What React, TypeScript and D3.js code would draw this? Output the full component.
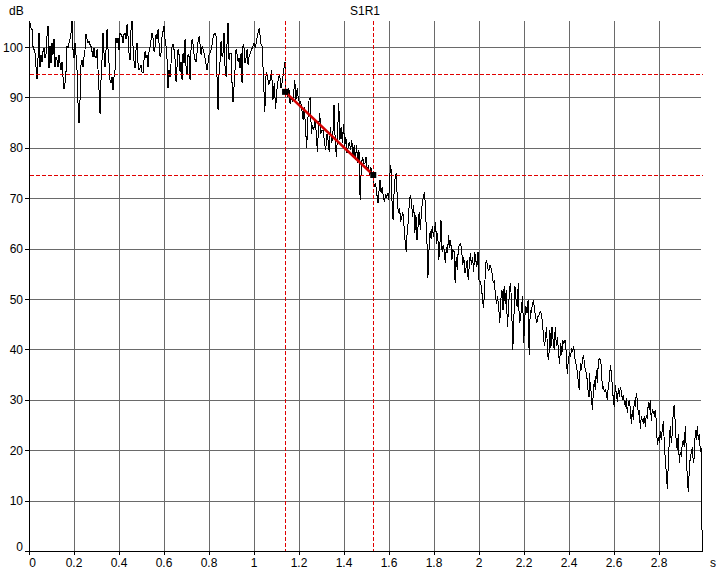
import React from "react";
import * as d3 from "d3";

// ---- data ----
const title = "S1R1";
const yUnit = "dB";
const xUnit = "s";

// Segment A: steady level, 0 .. 0.978 s
const segAStart = 0;
const segAEnd = 0.978;
const segADb: number[] = [
  97.8, 104.8, 103.8, 103.5, 100.1, 99.5, 98.8, 96.1, 93.6, 97.8,
  102.8, 96.1, 98.5, 97.1, 99.1, 99.8, 97.8, 98.5, 102.1, 104.1,
  95.8, 100.1, 96.8, 100.8, 98.5, 101.5, 96.1, 98.1, 97.5, 96.1,
  98.5, 96.8, 95.5, 97.1, 94.1, 91.6, 92.8, 95.1, 100.1, 99.8,
  100.8, 101.5, 102.8, 105.1, 99.5, 97.8, 100.8, 98.5, 95.5, 88.8,
  84.9, 89.5, 96.5, 97.5, 96.1, 98.1, 99.5, 102.5, 101.5, 100.8,
  101.1, 100.5, 100.1, 99.1, 98.1, 99.8, 98.1, 97.8, 99.5, 95.5,
  91.5, 86.8, 93.5, 97.5, 102.8, 98.8, 96.1, 99.5, 103.5, 99.5,
  96.8, 93.5, 92.8, 94.1, 91.5, 94.1, 95.5, 101.8, 100.8, 101.8,
  99.5, 102.8, 102.5, 102.1, 100.8, 102.5, 102.8, 101.5, 104.5, 102.1,
  98.8, 97.5, 103.5, 105.1, 100.1, 97.1, 95.8, 99.5, 100.8, 96.8,
  95.5, 95.8, 96.5, 95.1, 94.8, 97.5, 99.1, 97.8, 98.5, 96.1,
  99.1, 100.1, 101.5, 102.8, 101.8, 99.1, 100.1, 102.5, 101.5, 103.5,
  100.8, 98.1, 98.8, 102.1, 103.1, 104.1, 101.5, 100.1, 97.5, 91.8,
  95.5, 94.1, 96.8, 100.1, 100.5, 99.5, 97.5, 93.1, 96.1, 99.5,
  98.5, 95.1, 97.1, 93.5, 98.8, 96.8, 101.5, 96.1, 94.5, 98.5,
  98.1, 93.5, 99.5, 101.5, 100.5, 98.5, 97.5, 97.1, 98.8, 101.1,
  102.1, 100.5, 98.5, 100.1, 99.5, 98.8, 97.8, 96.5, 95.5, 96.8,
  98.5, 98.8, 99.5, 100.5, 101.8, 102.5, 102.8, 102.1, 93.8, 87.5,
  94.8, 97.1, 101.1, 98.1, 98.8, 102.8, 96.1, 94.1, 100.8, 104.8,
  97.5, 98.8, 98.8, 92.8, 89.1, 92.1, 95.5, 99.5, 98.5, 97.1,
  97.8, 95.8, 98.8, 92.8, 100.5, 99.8, 96.8, 97.8, 99.5, 96.5,
  98.1,
];

// Segment B: onset of decay, 1.0 .. 1.138 s
const segBStart = 1.0;
const segBEnd = 1.138;
const segBDb: number[] = [
  100.8, 99.8, 101.5, 102.8, 103.8, 100.8, 100.1, 94.1, 87.1, 95.1,
  94.1, 92.5, 93.5, 95.5, 89.5, 92.8, 87.8, 91.5, 93.8, 94.5,
  91.8, 93.1, 95.5, 97.1,
];

// Segment B2: evaluation range, 1.139 .. 1.551 s
const segB2Start = 1.139;
const segB2End = 1.551;
const segB2Db: number[] = [
  91.1, 90.8, 90.1, 91.8, 88.8, 90.1, 89.1, 90.8, 93.4, 89.5,
  91.8, 89.8, 88.8, 89.1, 87.5, 85.5, 88.1, 84.2, 79.9, 85.5,
  89.5, 89.8, 82.8, 84.5, 83.5, 85.5, 83.2, 79.2, 84.2, 86.8,
  82.8, 83.5, 83.5, 80.9, 79.5, 82.8, 81.5, 79.2, 84.2, 80.9,
  82.2, 88.5, 81.5, 78.2, 82.8, 88.8, 81.5, 84.2, 80.9, 84.8,
  80.2, 82.2, 78.9, 80.2, 81.2, 79.5, 81.5, 78.2, 80.5, 77.5,
  80.5, 76.9, 79.5, 69.6, 76.5, 78.2, 76.9, 76.9, 78.2, 75.6,
  76.2, 74.6, 76.2, 74.9, 74.2, 72.2, 72.9, 70.9, 69.0,
];

// Segment C: main decay, 1.56 .. 2.489 s
const segCStart = 1.56;
const segCEnd = 2.489;
const segCDb: number[] = [
  73.6, 71.0, 72.3, 70.3, 69.3, 70.6, 70.3, 71.0, 69.6, 74.6,
  76.6, 69.6, 65.7, 71.6, 74.3, 74.9, 69.0, 67.0, 68.0, 65.3,
  66.3, 67.3, 64.7, 61.7, 59.4, 63.4, 65.3, 69.6, 70.6, 69.0,
  66.3, 68.6, 63.0, 66.7, 61.7, 64.4, 67.3, 63.7, 67.0, 69.3,
  70.3, 71.3, 66.3, 62.4, 54.1, 59.7, 63.4, 62.0, 64.4, 62.4,
  63.7, 65.3, 61.0, 63.0, 57.7, 60.7, 65.7, 59.4, 60.7, 59.7,
  57.1, 60.4, 59.1, 62.7, 60.1, 61.7, 57.7, 59.7, 59.4, 53.1,
  58.4, 55.7, 60.4, 60.7, 61.0, 59.7, 56.7, 58.4, 55.1, 56.1,
  57.7, 53.8, 56.7, 59.1, 56.7, 58.4, 55.4, 59.4, 57.7, 56.4,
  59.4, 53.4, 53.4, 52.5, 50.5, 48.2, 51.1, 57.1, 57.7, 56.1,
  55.7, 56.7, 56.1, 55.1, 53.1, 53.8, 50.8, 49.1, 50.5, 48.5,
  45.2, 49.8, 51.8, 47.8, 52.5, 49.1, 51.8, 44.5, 47.8, 52.1,
  53.1, 47.8, 39.9, 46.5, 52.5, 49.8, 48.5, 53.1, 45.2, 45.8,
  48.5, 50.5, 41.2, 46.5, 48.5, 47.2, 49.8, 38.9, 47.8, 47.2,
  49.1, 49.8, 47.8, 46.5, 45.2, 46.5, 46.8, 47.5, 47.2, 45.8,
  43.2, 40.6, 42.2, 44.5, 38.9, 37.9, 43.8, 40.2, 44.5, 41.9,
  39.9, 44.5, 40.6, 42.5, 39.2, 37.2, 41.2, 38.9, 41.6, 41.2,
  41.9, 39.6, 35.2, 37.9, 39.2, 38.6, 40.2, 39.6, 40.6, 38.2,
  37.2, 35.9, 33.9, 32.0, 37.2, 35.9, 38.2, 38.9, 36.6, 35.9,
  34.6, 32.0, 30.6,
];

// Segment D: tail / noise floor, 2.4904 .. 2.988 s
const segDStart = 2.4904;
const segDEnd = 2.988;
const segDDb: number[] = [
  35.3, 32.6, 31.3, 28.0, 31.6, 33.9, 31.9, 35.9, 33.3, 37.6,
  38.2, 37.9, 36.6, 32.3, 32.6, 31.6, 31.9, 31.3, 30.0, 33.0,
  33.9, 36.9, 35.3, 32.6, 30.0, 28.6, 33.0, 31.3, 29.6, 32.3,
  30.6, 32.6, 31.6, 30.0, 31.0, 29.6, 28.6, 30.3, 27.3, 29.3,
  30.0, 28.3, 25.3, 28.0, 26.0, 30.0, 28.6, 31.3, 30.0, 27.0,
  28.0, 24.3, 26.7, 26.0, 25.3, 26.7, 24.7, 27.0, 26.3, 29.6,
  28.0, 30.0, 25.7, 28.0, 27.6, 27.0, 28.0, 25.7, 21.0, 22.7,
  21.4, 23.7, 22.0, 24.3, 25.7, 21.4, 18.1, 15.4, 12.4, 17.4,
  22.0, 24.7, 21.4, 23.3, 28.0, 29.0, 25.0, 21.4, 20.0, 23.3,
  17.4, 19.7, 18.7, 21.4, 22.0, 20.7, 24.7, 20.0, 14.1, 11.8,
  16.1, 18.7, 19.4, 20.7, 17.4, 18.7, 24.0, 22.0, 24.7, 22.0,
  23.3, 19.7, 20.4,
];
const endTime = 2.992;
const endDb = 0;

const fitTimes = [1.138, 1.53];
const fitDb = [91.1, 74.6];
const markerTimes = [1.138, 1.53];
const markerLevels = [94.6, 74.6];

const yTicks = [0, 10, 20, 30, 40, 50, 60, 70, 80, 90, 100];
const xTicks = [0, 0.2, 0.4, 0.6, 0.8, 1, 1.2, 1.4, 1.6, 1.8, 2, 2.2, 2.4, 2.6, 2.8];

function spread(start: number, end: number, vals: number[]): [number, number][] {
  const n = vals.length;
  return vals.map((v, i) => [start + ((end - start) * i) / (n - 1), v]);
}

export default function App() {
  const W = 723;
  const H = 578;
  const left = 29;
  const right = 704;
  const bottom = 551;
  const top = 21;
  const x = d3.scaleLinear().domain([0, 3]).range([left, right]);
  const y = d3.scaleLinear().domain([0, 105]).range([bottom, bottom - 105 * 5.04]);

  const pts: [number, number][] = [
    ...spread(segAStart, segAEnd, segADb),
    ...spread(segBStart, segBEnd, segBDb),
    ...spread(segB2Start, segB2End, segB2Db),
    ...spread(segCStart, segCEnd, segCDb),
    ...spread(segDStart, segDEnd, segDDb),
    [endTime, endDb],
  ];
  const line = d3
    .line<[number, number]>()
    .x((d) => x(d[0]))
    .y((d) => y(d[1]));

  const fitPts: [number, number][] = fitTimes.map((t, i) => [t, fitDb[i]]);

  const font = "'Liberation Sans', Arial, sans-serif";
  const gridColor = "#6a6a6a";
  const dashColor = "#e00000";
  const px = (v: number) => Math.round(v) + 0.5;

  return (
    <svg
      width={W}
      height={H}
      style={{ position: "absolute", left: 0, top: 0, background: "#fff" }}
      fontFamily={font}
      fontSize={12}
    >
      <rect x={0} y={0} width={W} height={H} fill="#fff" />
      {/* grid */}
      <g shapeRendering="crispEdges" stroke={gridColor} strokeWidth={1}>
        {yTicks.map((t) => (
          <line key={"gy" + t} x1={left - 4} x2={701} y1={px(y(t))} y2={px(y(t))} />
        ))}
        {xTicks.map((t) => (
          <line key={"gx" + t} x1={px(x(t))} x2={px(x(t))} y1={top} y2={bottom + 4} />
        ))}
      </g>
      {/* axes */}
      <g shapeRendering="crispEdges" stroke="#000" strokeWidth={1}>
        <line x1={px(left)} x2={px(left)} y1={top} y2={bottom + 4} />
        <line x1={left - 4} x2={703} y1={px(y(0))} y2={px(y(0))} />
        {yTicks.map((t) => (
          <line key={"ty" + t} x1={left - 4} x2={left} y1={px(y(t))} y2={px(y(t))} />
        ))}
        {xTicks.map((t) => (
          <line key={"tx" + t} x1={px(x(t))} x2={px(x(t))} y1={bottom} y2={bottom + 4} />
        ))}
      </g>
      {/* decay curve */}
      <path
        d={line(pts) || ""}
        fill="none"
        stroke="#000"
        strokeWidth={1}
        shapeRendering="crispEdges"
      />
      {/* markers */}
      {markerLevels.map((v) => (
        <line
          key={"ml" + v}
          x1={left + 1}
          x2={703}
          y1={px(y(v))}
          y2={px(y(v))}
          stroke={dashColor}
          strokeWidth={1}
          strokeDasharray="4,2"
          shapeRendering="crispEdges"
        />
      ))}
      {markerTimes.map((t) => (
        <line
          key={"mt" + t}
          x1={px(x(t))}
          x2={px(x(t))}
          y1={top}
          y2={bottom}
          stroke={dashColor}
          strokeWidth={1}
          strokeDasharray="4,2"
          shapeRendering="crispEdges"
        />
      ))}
      {/* regression */}
      <path d={line(fitPts) || ""} fill="none" stroke="#d40000" strokeWidth={2.5} />
      {fitPts.map((d, i) => (
        <rect key={"sq" + i} x={x(d[0]) - 3} y={y(d[1]) - 3} width={6} height={6} fill="#000" />
      ))}
      {/* labels */}
      {yTicks.map((t) => (
        <text
          key={"ly" + t}
          x={23}
          y={Math.min(y(t), 546) + 4.5}
          textAnchor="end"
          fill="#000"
        >
          {t}
        </text>
      ))}
      {xTicks.map((t) => (
        <text
          key={"lx" + t}
          x={t === 0 ? x(t) + 3.5 : x(t)}
          y={567}
          textAnchor="middle"
          fill="#000"
        >
          {String(+t.toFixed(1))}
        </text>
      ))}
      <text x={713} y={567} textAnchor="middle" fill="#000">{xUnit}</text>
      <text x={9} y={15} fill="#000">{yUnit}</text>
      <text x={365} y={15} textAnchor="middle" fill="#000">{title}</text>
    </svg>
  );
}
